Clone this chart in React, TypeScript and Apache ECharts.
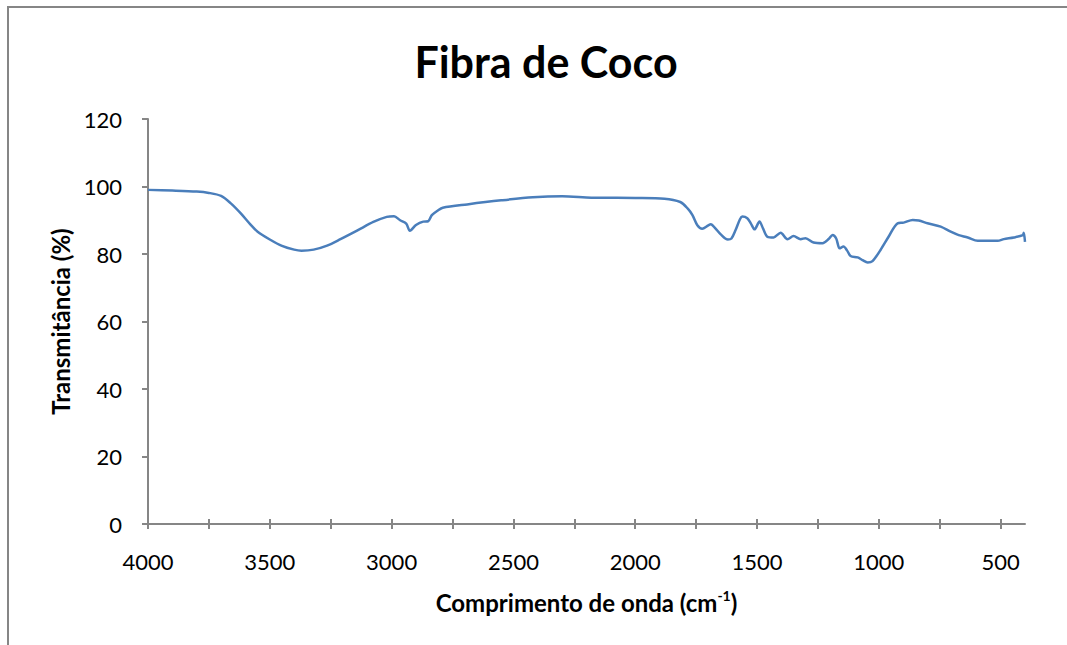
import React, { useEffect, useRef } from "react";
import * as echarts from "echarts";

const chartTitle = "Fibra de Coco";
const xAxisTitle = "Comprimento de onda (cm";
const xAxisTitleSup = "-1";
const yAxisTitle = "Transmitância (%)";

const xLabelValues = [4000, 3500, 3000, 2500, 2000, 1500, 1000, 500];
const xTickValues = [4000, 3750, 3500, 3250, 3000, 2750, 2500, 2250, 2000, 1750, 1500, 1250, 1000, 750, 500];

const waveNumber = [
  4000, 3900, 3800, 3750, 3700, 3660, 3620, 3580, 3550, 3500, 3450, 3400, 3370, 3320, 3265, 3210,
  3140, 3075, 3020, 2990, 2965, 2940, 2925, 2900, 2870, 2850, 2835, 2810, 2790, 2690, 2550, 2420,
  2300, 2180, 2000, 1880, 1815, 1785, 1765, 1745, 1725, 1700, 1690, 1670, 1650, 1620, 1605, 1588,
  1570, 1560, 1540, 1525, 1510, 1490, 1475, 1457, 1432, 1403, 1375, 1350, 1321, 1301, 1268, 1231,
  1205, 1190, 1175, 1161, 1145, 1130, 1116, 1087, 1067, 1046, 1026, 993, 960, 923, 898, 861,
  836, 800, 746, 705, 672, 635, 594, 553, 512, 487, 446, 409, 405, 400,
];
const transmittance = [
  99.0, 98.8, 98.5, 98.1, 97.2, 95.0, 92.1, 88.8, 86.6, 84.3, 82.4, 81.3, 81.0, 81.3, 82.5, 84.4,
  87.0, 89.5, 91.0, 91.2, 90.0, 89.0, 86.9, 88.6, 89.6, 89.7, 91.5, 92.9, 93.7, 94.7, 95.9, 96.8,
  97.1, 96.7, 96.6, 96.4, 95.4, 93.5, 91.5, 88.5, 87.5, 88.5, 88.8, 87.5, 85.9, 84.3, 84.6, 87.1,
  90.3, 91.1, 90.6, 89.0, 87.3, 89.6, 87.5, 85.1, 84.9, 86.3, 84.4, 85.3, 84.4, 84.7, 83.4, 83.2,
  84.5, 85.6, 84.6, 81.7, 82.2, 81.0, 79.4, 79.0, 78.2, 77.5, 77.9, 81.2, 85.1, 89.1, 89.3, 90.1,
  89.9, 89.1, 88.1, 86.6, 85.6, 84.9, 83.9, 83.9, 83.9, 84.4, 84.9, 85.6, 86.3, 83.6,
];

const FONT = "Lato";
const AXIS_COLOR = "#868686";

export default function App() {
  const ref = useRef<HTMLDivElement>(null);
  useEffect(() => {
    if (!ref.current) return;
    const chart = echarts.init(ref.current, undefined, { renderer: "svg" });
    const data = waveNumber.map((w, i) => [w, transmittance[i]]);
    const baseX = {
      type: "value",
      inverse: true,
      min: 400,
      max: 4000,
      splitLine: { show: false },
    };
    chart.setOption({
      animation: false,
      backgroundColor: "#ffffff",
      title: {
        text: chartTitle,
        left: 541,
        top: 35,
        textAlign: "center",
        textStyle: { fontFamily: FONT, fontSize: 43, fontWeight: "bold", color: "#000" },
      },
      grid: { left: 148, right: 42, top: 119, bottom: 121 },
      graphic: [
        {
          type: "rect",
          shape: { x: 8, y: 7, width: 1100, height: 700 },
          style: { stroke: AXIS_COLOR, lineWidth: 2, fill: "transparent" },
          silent: true,
          z: -10,
        },
      ],
      xAxis: [
        {
          ...baseX,
          position: "bottom",
          axisLine: { show: true, onZero: false, lineStyle: { color: AXIS_COLOR, width: 2 } },
          axisTick: { show: true, customValues: xTickValues, length: 5, lineStyle: { color: AXIS_COLOR, width: 2 } },
          axisLabel: {
            customValues: xLabelValues,
            formatter: (v: number) => String(v),
            margin: 26,
            fontFamily: FONT,
            fontSize: 22,
            color: "#000",
          },
          name: "{b|" + xAxisTitle + "}{s|" + xAxisTitleSup + "}{b|)}",
          nameLocation: "middle",
          nameGap: 64,
          nameTextStyle: {
            rich: {
              b: { fontFamily: FONT, fontSize: 24, fontWeight: "bold", color: "#000", lineHeight: 28 },
              s: { fontFamily: FONT, fontSize: 14, fontWeight: "bold", color: "#000", verticalAlign: "top", lineHeight: 28 },
            },
          },
        },
        {
          ...baseX,
          position: "bottom",
          axisLine: { show: false },
          axisTick: { show: true, inside: true, customValues: xTickValues, length: 5, lineStyle: { color: AXIS_COLOR, width: 2 } },
          axisLabel: { show: false },
        },
      ],
      yAxis: {
        type: "value",
        min: 0,
        max: 120,
        interval: 20,
        splitLine: { show: false },
        axisLine: { show: true, lineStyle: { color: AXIS_COLOR, width: 2 } },
        axisTick: { show: true, length: 6, lineStyle: { color: AXIS_COLOR, width: 2 } },
        axisLabel: { margin: 26, fontFamily: FONT, fontSize: 22, color: "#000" },
        name: yAxisTitle,
        nameLocation: "middle",
        nameGap: 76,
        nameTextStyle: { fontFamily: FONT, fontSize: 24, fontWeight: "bold", color: "#000" },
      },
      series: [
        {
          type: "line",
          xAxisIndex: 0,
          data,
          showSymbol: false,
          smooth: 0.3,
          lineStyle: { color: "#4a7ebb", width: 2.5 },
          itemStyle: { color: "#4a7ebb" },
        },
      ],
    });
    return () => chart.dispose();
  }, []);
  return (
    <div
      ref={ref}
      style={{ position: "fixed", left: 0, top: 0, width: 1067, height: 645, background: "#fff" }}
    />
  );
}
